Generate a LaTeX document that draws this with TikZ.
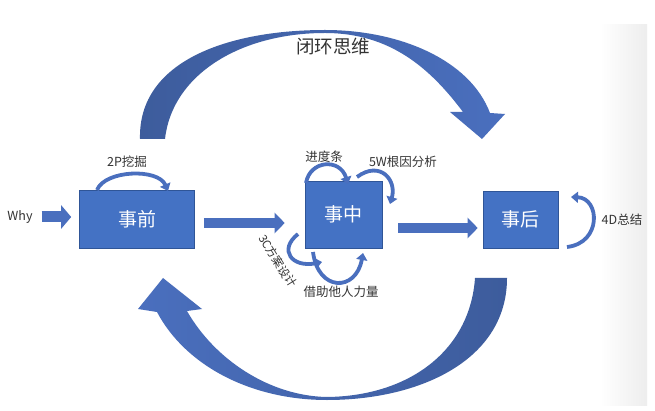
\documentclass[tikz,border=0pt]{standalone}
\usepackage{fontspec}
\setmainfont{Noto Sans CJK SC}
\usetikzlibrary{arrows.meta}
\definecolor{boxblue}{HTML}{4472C4}
\definecolor{boxline}{HTML}{2F5597}
\definecolor{arrblue}{HTML}{4A6FBE}
\definecolor{darkblue}{HTML}{3D5C9C}
\definecolor{txt}{HTML}{333333}
\tikzset{
  stagebox/.style={rectangle,fill=boxblue,draw=boxline,line width=0.6pt,text=white,font=\fontsize{19}{22}\selectfont},
  lbl/.style={text=txt,font=\fontsize{12.5}{14}\selectfont,inner sep=1pt},
  blk/.style={draw=arrblue,line width=10pt,-{Triangle[width=20pt,length=10pt]}},
  loop/.style={draw=arrblue,line width=3.8pt,-{Triangle[width=11pt,length=7pt]}},
}
\begin{document}
\begin{tikzpicture}[x=1pt,y=-1pt]
\useasboundingbox (0,0) rectangle (655,411);
\fill[white] (0,0) rectangle (655,411);
\shade[left color=white,right color=black!7] (600,25) rectangle (647,405);

% boxes
\node[stagebox,minimum width=115pt,minimum height=58pt] (qian) at (137,219) {\raisebox{-3pt}{事前}};
\node[stagebox,minimum width=77pt,minimum height=67pt] (zhong) at (343.5,214.5) {\raisebox{-4pt}{事中}};
\node[stagebox,minimum width=75pt,minimum height=57pt] (hou) at (520.5,219.5) {\raisebox{-2pt}{事后}};

% labels
\node[lbl] (why) at (20,217) {Why};
\node[lbl] (p2) at (127,162) {2P挖掘};
\node[lbl] (jd) at (324,157) {进度条};
\node[lbl] (w5) at (403,162) {5W根因分析};
\node[lbl,rotate=-58,font=\fontsize{11.5}{13}\selectfont] (c3) at (278,261) {3C方案设计};
\node[lbl] (jz) at (341,292) {借助他人力量};
\node[lbl] (d4) at (622,220) {4D总结};
\node[text=txt,font=\fontsize{18.5}{21}\selectfont,inner sep=1pt] (title) at (333,47) {闭环思维};

% straight block arrows
\draw[blk,line width=11pt,-{Triangle[width=23pt,length=10pt]}] ([xshift=8pt]why.east) -- (why.east -| qian.west) [shorten >=8pt];
\coordinate (a1s) at ([xshift=9pt,yshift=-4pt]qian.east);
\coordinate (a1e) at (a1s -| zhong.west);
\draw[blk,shorten >=20pt] (a1s) -- (a1e);
\coordinate (a2s) at ([xshift=16pt,yshift=-13.5pt]zhong.east);
\coordinate (a2e) at (a2s -| hou.west);
\draw[blk,shorten >=5pt] (a2s) -- (a2e);

% big top curved arrow
\shade[left color=darkblue,right color=arrblue]
  (140,139) .. controls (138,60) and (230,30) .. (325,30)
  .. controls (400,30) and (470,60) .. (490,113)
  -- (505,114) -- (482,139) -- (450,112) -- (463,112)
  .. controls (430,68) and (390,33) .. (325,33)
  .. controls (240,33) and (172,75) .. (165,139) -- cycle;

% big bottom curved arrow
\shade[left color=arrblue,right color=darkblue]
  (507,278) .. controls (507,360) and (420,400) .. (327,400)
  .. controls (250,400) and (185,365) .. (157,312)
  -- (138,309) -- (163,278) -- (202,309) -- (187,311)
  .. controls (215,360) and (270,396) .. (327,397)
  .. controls (410,396) and (470,350) .. (475,278) -- cycle;

% small loop arrows
\draw[loop] (97,190) .. controls (105,170) and (158,168) .. (168,191);
\draw[loop] (306,183) .. controls (310,160) and (340,158) .. (348,184);
\draw[loop] (357,177) .. controls (380,160) and (397,180) .. (390,204);
\draw[loop] (298,234) .. controls (278,250) and (292,268) .. (322,262);
\draw[loop] (313,252) .. controls (318,292) and (356,292) .. (363,253);
\draw[loop] (567,247) .. controls (602,243) and (600,198) .. (571,197);
\end{tikzpicture}
\end{document}
